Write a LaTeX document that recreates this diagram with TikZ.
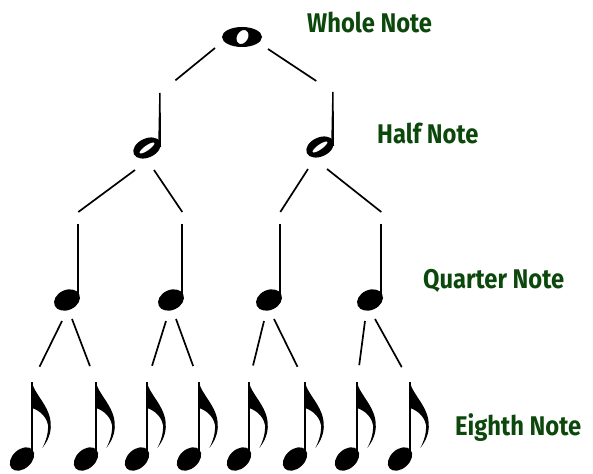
\documentclass[tikz,border=0pt]{standalone}
\usepackage{fontspec}
\newfontfamily\labelfont[FakeStretch=0.88]{Fira Sans}
\usepackage{tikz}
\usetikzlibrary{calc}
\definecolor{notegreen}{RGB}{12,72,12}

\tikzset{
  wholenote/.pic={
    \fill[even odd rule] (0,0) ellipse [x radius=20, y radius=10]
      (0.5,0) ellipse [x radius=5.5, y radius=7.5, rotate=-30];
    \coordinate (-l) at (-27,11);
    \coordinate (-r) at (26,12);
  },
  halfnote/.pic={
    \fill[even odd rule] (0,0) ellipse [x radius=14.5, y radius=9.5, rotate=25]
      (0,0) ellipse [x radius=9, y radius=2.6, rotate=35];
    \fill (11.2,-1) -- (14,-1) -- (13.6,-55) -- (12.2,-55) -- cycle;
    \coordinate (-in) at (12.9,-55);
    \coordinate (-l) at (-12,22);
    \coordinate (-r) at (7,22);
  },
  quarternote/.pic={
    \fill (0,0) ellipse [x radius=13.5, y radius=10, rotate=25];
    \fill (10.3,0) rectangle (12.3,-76);
    \coordinate (-in) at (11.3,-88);
    \coordinate (-l) at (-5,21);
    \coordinate (-r) at (5,19);
  },
  eighthnote/.pic={
    \fill (0,0) ellipse [x radius=14, y radius=9.5, rotate=42];
    \fill (9,0) rectangle (11,-77);
    \fill (10,-77) .. controls (12,-65) and (28,-53) .. (28.7,-35.4)
      .. controls (29.5,-25) and (25,-17) .. (20.3,-11)
      .. controls (24,-18) and (26.5,-26) .. (26,-34)
      .. controls (24,-44) and (16,-49) .. (10,-51) -- cycle;
    \coordinate (-in) at (10,-77);
  },
  branch/.style={line width=1.7pt},
  notelabel/.style={anchor=base west, inner sep=0pt, text=notegreen,
    font=\labelfont\bfseries\fontsize{27}{30}\selectfont}
}

\begin{document}
\begin{tikzpicture}[x=1pt, y=-1pt]
\useasboundingbox (0,0) rectangle (593,473);

% notes
\pic (w) at (242,37) {wholenote};

\pic (h1) at (147,148) {halfnote};
\pic (h2) at (320,147) {halfnote};

\pic (q1) at (67,300) {quarternote};
\pic (q2) at (171,300) {quarternote};
\pic (q3) at (269,300) {quarternote};
\pic (q4) at (370,300) {quarternote};

\pic (e1) at (22,459) {eighthnote};
\pic (e2) at (86,459) {eighthnote};
\pic (e3) at (137,459) {eighthnote};
\pic (e4) at (189,459) {eighthnote};
\pic (e5) at (239,459) {eighthnote};
\pic (e6) at (295,459) {eighthnote};
\pic (e7) at (347,459) {eighthnote};
\pic (e8) at (400,459) {eighthnote};

% labels
\node[notelabel] (lw) at (307,33) {Whole Note};
\node[notelabel] (lh) at (377,143) {Half Note};
\node[notelabel] (lq) at (423,288) {Quarter Note};
\node[notelabel] (le) at (455,435) {Eighth Note};

% branches
\draw[branch, shorten >=20pt] (w-l) -- (h1-in);
\draw[branch, shorten >=20pt] (w-r) -- (h2-in);

\draw[branch] (h1-l) -- (q1-in);
\draw[branch] (h1-r) -- (q2-in);
\draw[branch] (h2-l) -- (q3-in);
\draw[branch] (h2-r) -- (q4-in);

\draw[branch, shorten >=17pt] (q1-l) -- (e1-in);
\draw[branch, shorten >=17pt] (q1-r) -- (e2-in);
\draw[branch, shorten >=17pt] (q2-l) -- (e3-in);
\draw[branch, shorten >=17pt] (q2-r) -- (e4-in);
\draw[branch, shorten >=17pt] (q3-l) -- (e5-in);
\draw[branch, shorten >=17pt] (q3-r) -- (e6-in);
\draw[branch, shorten >=17pt] (q4-l) -- (e7-in);
\draw[branch, shorten >=17pt] (q4-r) -- (e8-in);

\end{tikzpicture}
\end{document}
